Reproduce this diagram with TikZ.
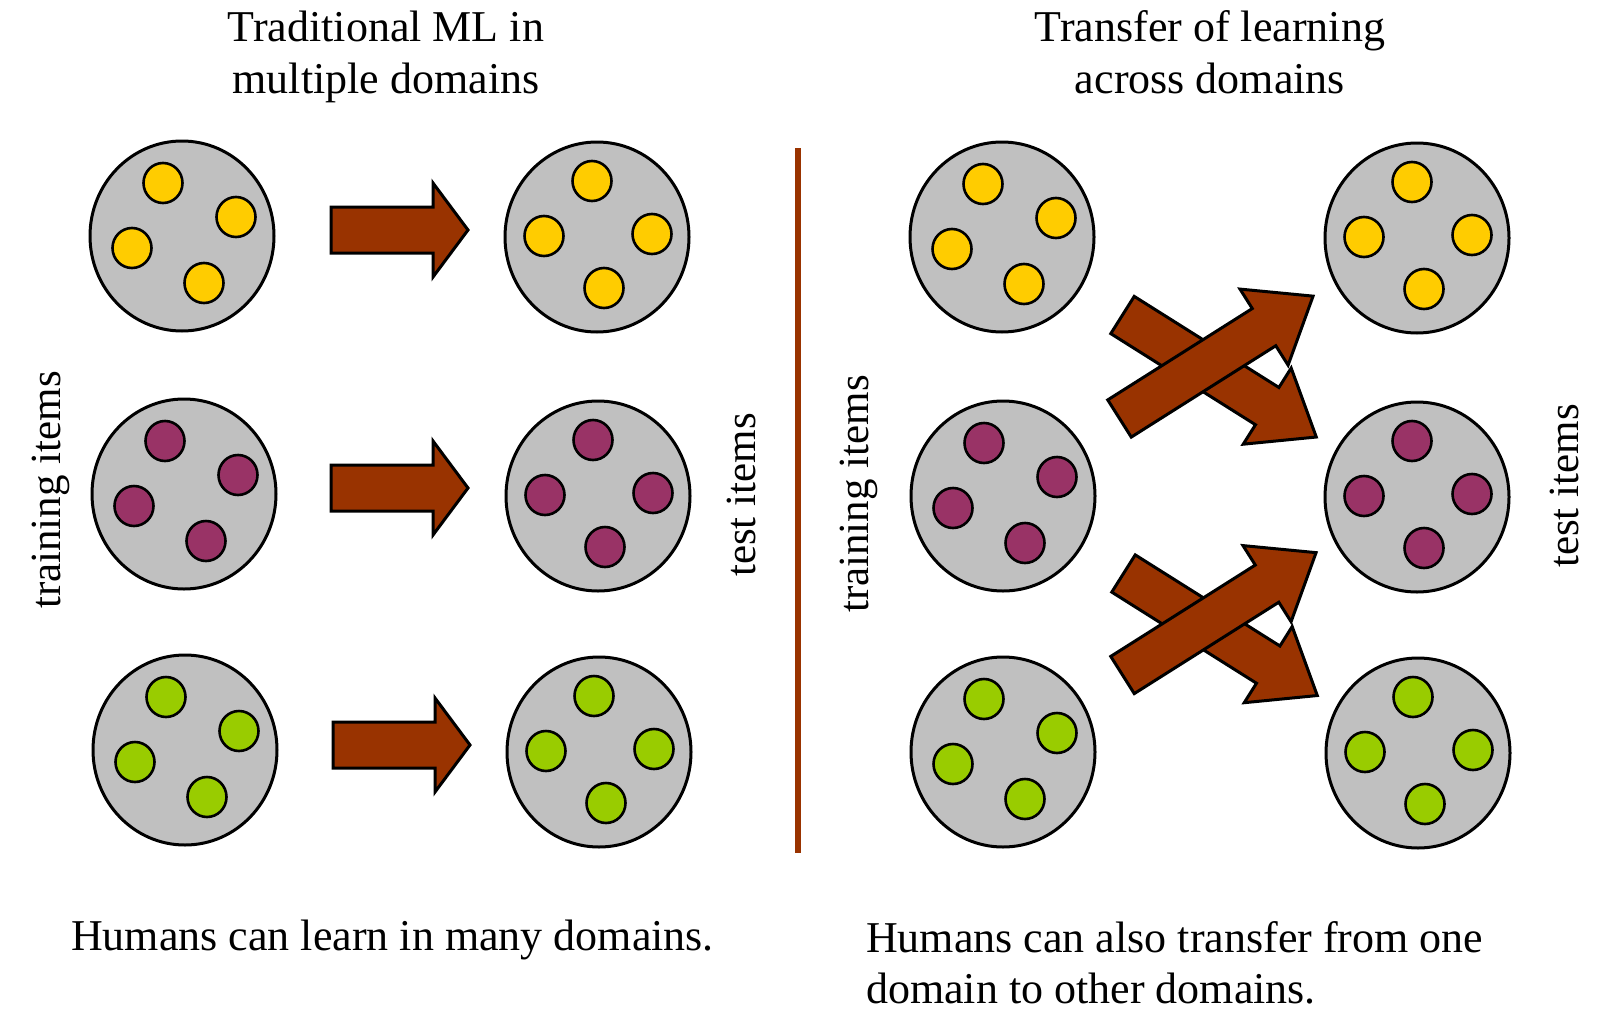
\documentclass[tikz,border=0pt]{standalone}
\usepackage{fontspec}
\setmainfont{Liberation Serif}
\usetikzlibrary{shapes.geometric}
\definecolor{arrowbrown}{HTML}{993300}
\definecolor{domgray}{HTML}{C0C0C0}
\definecolor{ityellow}{HTML}{FFCC00}
\definecolor{itpurple}{HTML}{993366}
\definecolor{itgreen}{HTML}{99CC00}
% training domain: rotated pattern of four items
\newcommand\traindom[3]{%
  \node[dom] (#1) at (#2) {};
  \begin{scope}[shift={(#2)}]
    \node[itm,fill=#3] (#1-1) at (-19,-53) {};
    \node[itm,fill=#3] (#1-2) at (54,-19) {};
    \node[itm,fill=#3] (#1-3) at (-50,12) {};
    \node[itm,fill=#3] (#1-4) at (22,47) {};
  \end{scope}}
% test domain: diamond pattern of four items
\newcommand\testdom[3]{%
  \node[dom] (#1) at (#2) {};
  \begin{scope}[shift={(#2)}]
    \node[itm,fill=#3] (#1-1) at (-5,-56) {};
    \node[itm,fill=#3] (#1-2) at (-53,-1) {};
    \node[itm,fill=#3] (#1-3) at (55,-3) {};
    \node[itm,fill=#3] (#1-4) at (7,51) {};
  \end{scope}}
% block arrow: x, y (tail centre), angle, length, head length, body half width, head half width
\newcommand\blockarrow[7]{%
  \draw[barrow, shift={(#1,#2)}, rotate=#3]
    (0,-#6) -- ({#4-#5},-#6) -- ({#4-#5},-#7) -- (#4,0)
    -- ({#4-#5},#7) -- ({#4-#5},#6) -- (0,#6) -- cycle;}
\begin{document}
\begin{tikzpicture}[x=1pt,y=-1pt,
  dom/.style={ellipse, draw=black, line width=3pt, fill=domgray,
    minimum width=184pt, minimum height=190pt, inner sep=0pt},
  itm/.style={ellipse, draw=black, line width=2.6pt,
    minimum width=39pt, minimum height=40pt, inner sep=0pt},
  barrow/.style={draw=black, line width=3pt, fill=arrowbrown, line join=miter},
  sepline/.style={draw=arrowbrown, line width=6pt},
  lbl/.style={font=\fontsize{44pt}{51pt}\selectfont, inner sep=0pt},
  vlbl/.style={font=\fontsize{43pt}{50pt}\selectfont, inner sep=0pt, rotate=90, anchor=base}]
\useasboundingbox (0,0) rectangle (1600,1033);

% titles
\node[lbl, anchor=base] (t1a) at (386,42) {Traditional ML in};
\node[lbl, anchor=base] (t1b) at (386,93) {multiple domains};
\node[lbl, anchor=base] (t2a) at (1210,42) {Transfer of learning};
\node[lbl, anchor=base] (t2b) at (1210,93) {across domains};

% left half
\traindom{L1}{182,236}{ityellow}
\traindom{L2}{184,494}{itpurple}
\traindom{L3}{185,750}{itgreen}
\testdom{LT1}{597,237}{ityellow}
\testdom{LT2}{598,496}{itpurple}
\testdom{LT3}{599,752}{itgreen}
\blockarrow{331}{230}{0}{137}{35}{23}{47}
\blockarrow{331}{488}{0}{137}{35}{23}{47}
\blockarrow{333}{745}{0}{137}{35}{23}{47}

% separator
\coordinate (s1) at (798,148);
\coordinate (s2) at (798,853);
\draw[sepline] (s1) -- (s2);

% right half
\traindom{R1}{1002,237}{ityellow}
\traindom{R2}{1003,496}{itpurple}
\traindom{R3}{1003,752}{itgreen}
\testdom{RT1}{1417,238}{ityellow}
\testdom{RT2}{1417,497}{itpurple}
\testdom{RT3}{1418,753}{itgreen}
\blockarrow{1122.5}{315}{-32.2}{229}{58}{22}{45}
\blockarrow{1119.5}{418.5}{32.3}{229}{58}{22}{45}
\blockarrow{1123.5}{573.5}{-32.2}{229}{58}{22}{45}
\blockarrow{1122.5}{675}{32.3}{229}{58}{22}{45}

% side labels
\node[vlbl] (trL) at (60,490) {training items};
\node[vlbl] (teL) at (755,495) {test items};
\node[vlbl] (trR) at (868,494) {training items};
\node[vlbl] (teR) at (1578,486) {test items};

% captions
\node[lbl, anchor=base west] (c1) at (71,950) {Humans can learn in many domains.};
\node[lbl, anchor=base west] (c2a) at (866,952) {Humans can also transfer from one};
\node[lbl, anchor=base west] (c2b) at (866,1003) {domain to other domains.};
\end{tikzpicture}
\end{document}
